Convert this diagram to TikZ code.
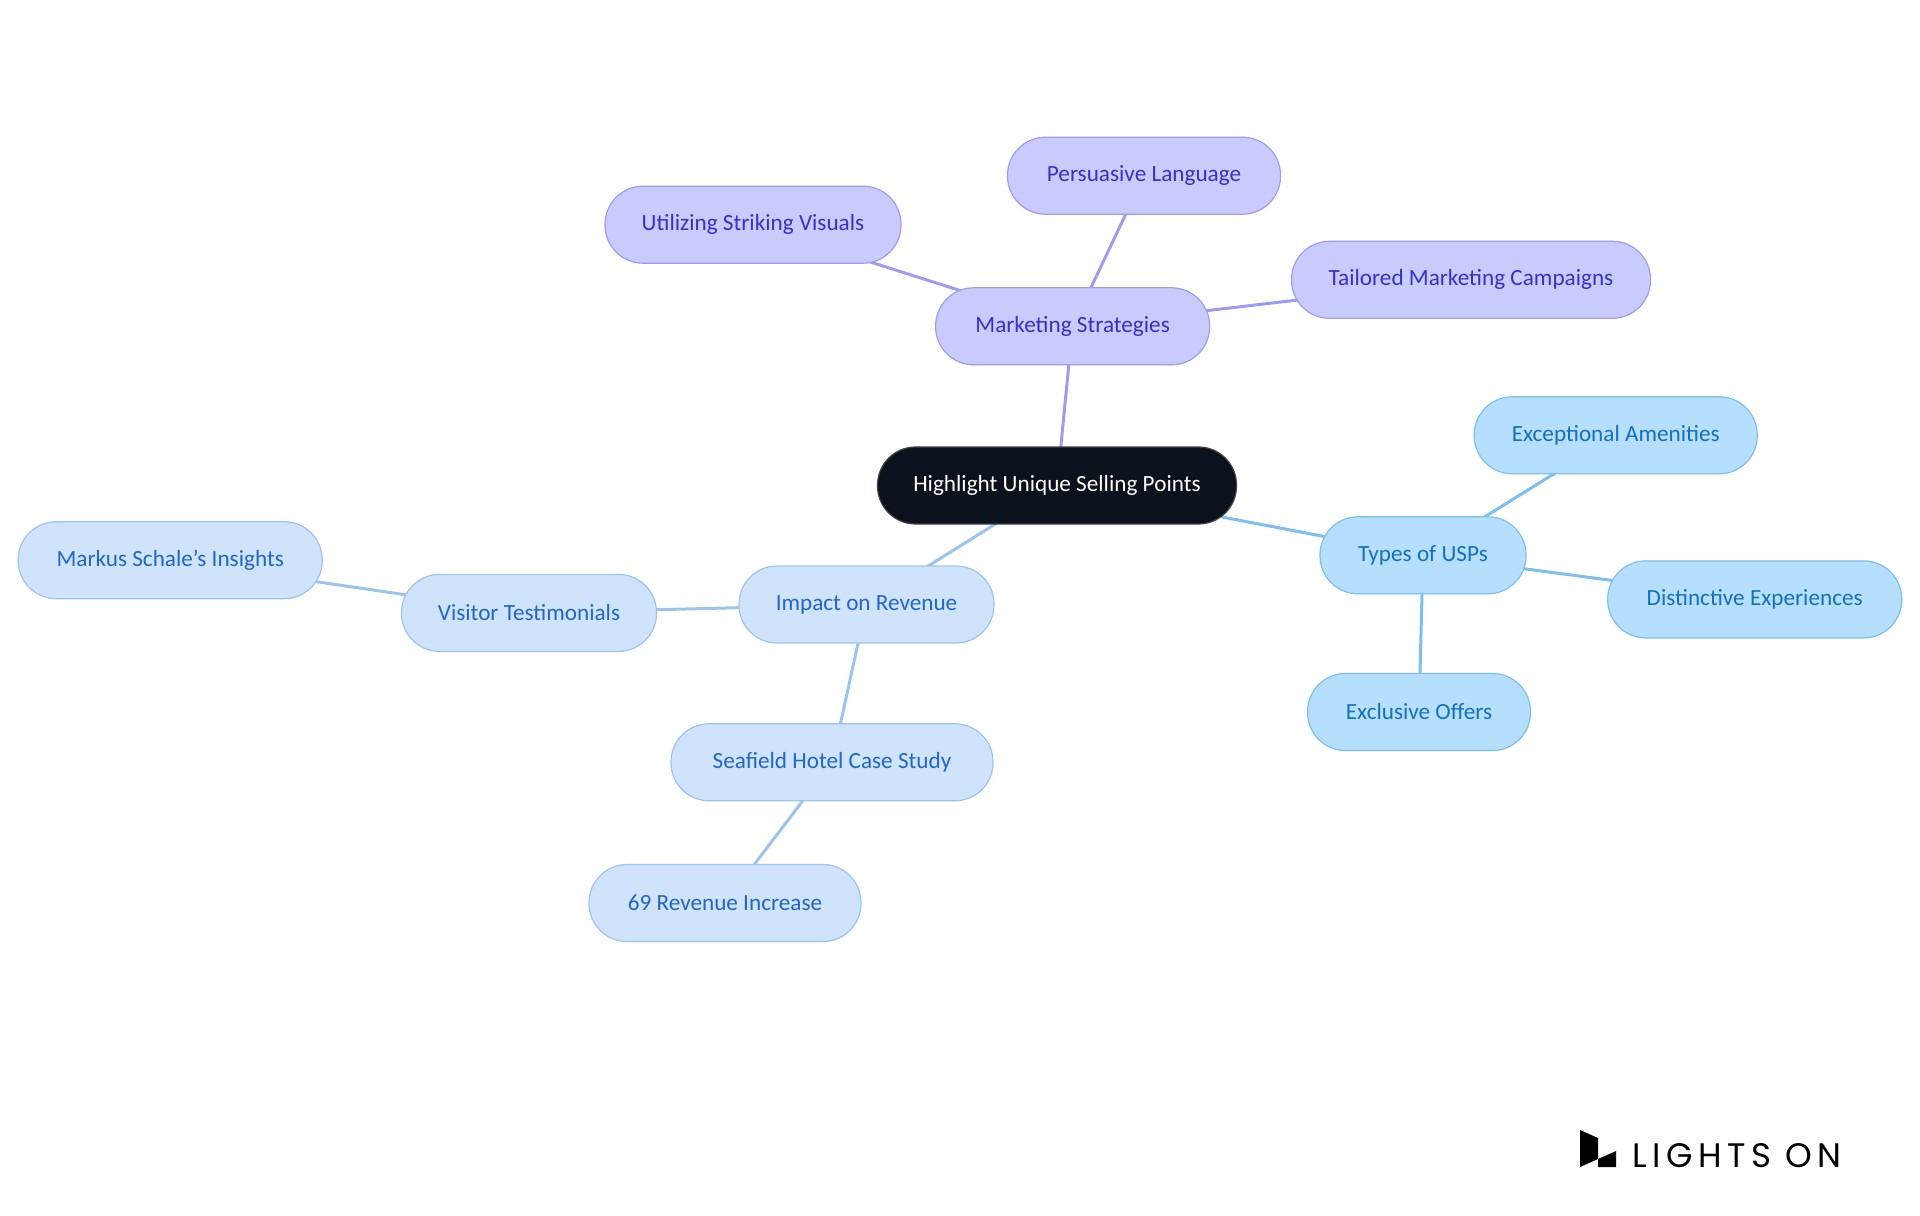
\documentclass[tikz,border=0pt]{standalone}
\usepackage{fontspec}
\usetikzlibrary{backgrounds}
\setmainfont{Carlito}
\newfontfamily\logofont[LetterSpace=16]{Poppins}
\definecolor{rootfill}{HTML}{0C121C}
\definecolor{mktfill}{HTML}{C9CBFD}
\definecolor{mktline}{HTML}{9E9CF1}
\definecolor{mkttext}{HTML}{3A2FC9}
\definecolor{uspfill}{HTML}{B5DFFC}
\definecolor{uspline}{HTML}{7DBFF0}
\definecolor{usptext}{HTML}{1570C0}
\definecolor{revfill}{HTML}{CFE3FB}
\definecolor{revline}{HTML}{9DC3F0}
\definecolor{revtext}{HTML}{2266C8}
\begin{document}
\begin{tikzpicture}[x=0.5pt, y=-0.5pt,
	pill/.style={rounded corners=19pt, minimum height=38.5pt, inner xsep=4pt,
		line width=0.6pt, font=\fontsize{11.6}{13}\selectfont},
	root/.style={pill, fill=rootfill, draw=rootfill!80!white, text=white},
	mkt/.style={pill, fill=mktfill, draw=mktline, text=mkttext},
	usp/.style={pill, fill=uspfill, draw=uspline, text=usptext},
	rev/.style={pill, fill=revfill, draw=revline, text=revtext},
	link/.style={line width=1.5pt}]
	\useasboundingbox (0,0) rectangle (1920,1215);

	\node[root] (hl) at (1057,485.5) [minimum width=179.5pt] {Highlight Unique Selling Points};

	\node[mkt] (mkt) at (1072.6,326.3) [minimum width=137pt] {Marketing Strategies};
	\node[mkt] (pers) at (1144,175.7) [minimum width=136.5pt] {Persuasive Language};
	\node[mkt] (vis) at (753,224.7) [minimum width=148pt] {Utilizing Striking Visuals};
	\node[mkt] (tail) at (1471,279.8) [minimum width=179.5pt] {Tailored Marketing Campaigns};

	\node[usp] (types) at (1423,555.3) [minimum width=103pt] {Types of USPs};
	\node[usp] (amen) at (1615.7,435.3) [minimum width=141.5pt] {Exceptional Amenities};
	\node[usp] (dist) at (1754.7,599.4) [minimum width=147pt] {Distinctive Experiences};
	\node[usp] (excl) at (1419,712) [minimum width=111.5pt] {Exclusive Offers};

	\node[rev] (imp) at (866.5,604.5) [minimum width=127.5pt] {Impact on Revenue};
	\node[rev] (visit) at (529,612.9) [minimum width=127.5pt] {Visitor Testimonials};
	\node[rev] (markus) at (170.2,560.2) [minimum width=152pt] {Markus Schale's Insights};
	\node[rev] (seaf) at (832,762.3) [minimum width=161pt] {Seafield Hotel Case Study};
	\node[rev] (incr) at (725,903) [minimum width=136pt] {69 Revenue Increase};

	\begin{scope}[on background layer]
	\draw[link, mktline] (hl.center) -- (mkt.center) -- (pers.center)
		(mkt.center) -- (vis.center) (mkt.center) -- (tail.center);
	\draw[link, uspline] (hl.center) -- (types.center) -- (amen.center)
		(types.center) -- (dist.center) (types.center) -- (excl.center);
	\draw[link, revline] (hl.center) -- (imp.center) -- (visit.center) -- (markus.center)
		(imp.center) -- (seaf.center) -- (incr.center);
	\end{scope}

	\fill (1580,1130) -- (1598,1138) -- (1598,1159) -- (1580,1167) -- cycle;
	\fill (1598,1159) -- (1616,1151) -- (1616,1167) -- (1598,1167) -- cycle;
	\node[anchor=base west, inner sep=0pt, font=\logofont\fontsize{17}{20}\selectfont] (logo)
		at (1632,1167) {LIGHTS ON};
\end{tikzpicture}
\end{document}
